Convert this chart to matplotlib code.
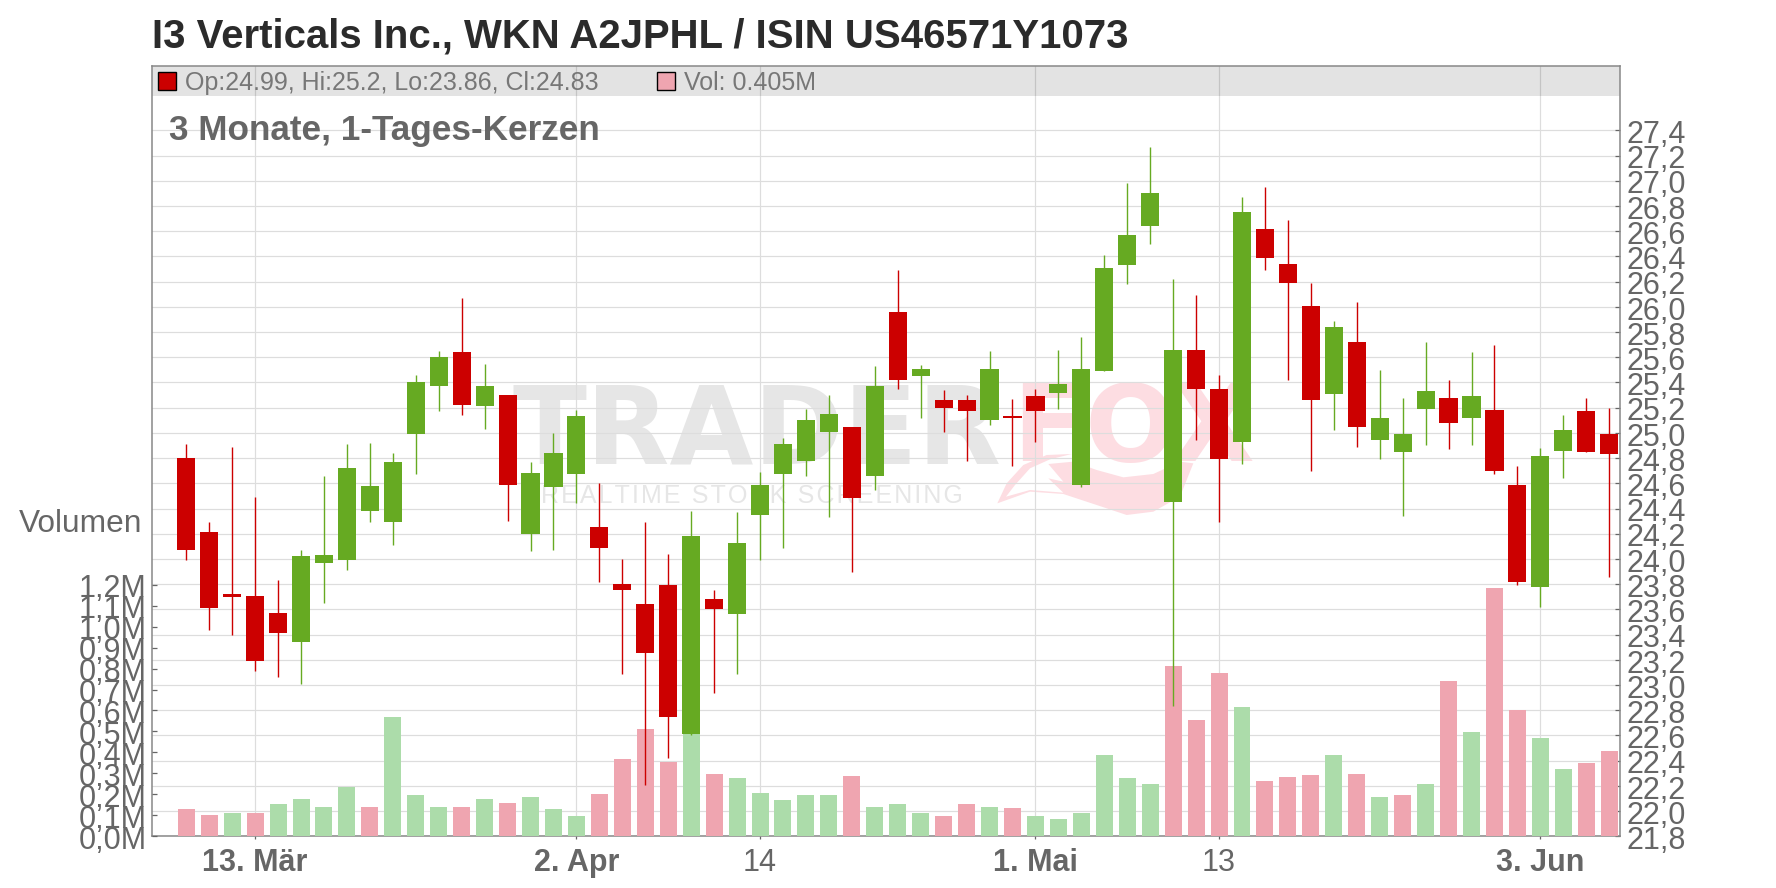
import matplotlib
matplotlib.use("Agg")
import matplotlib.pyplot as plt
from matplotlib.patches import Polygon, Rectangle
from matplotlib.transforms import ScaledTranslation

plt.rcParams["font.family"] = ["Liberation Sans", "DejaVu Sans"]

# daily candles
opens = [24.80, 24.21, 23.725, 23.71, 23.57, 23.34, 23.97, 23.99, 24.38, 24.29,
         24.99, 25.37, 25.64, 25.21, 25.30, 24.20, 24.57, 24.67, 24.25, 23.80,
         23.64, 23.79, 22.61, 23.68, 23.56, 24.35, 24.67, 24.78, 25.01, 25.05,
         24.66, 25.96, 25.45, 25.26, 25.26, 25.10, 25.13, 25.29, 25.32, 24.59,
         25.49, 26.33, 26.64, 24.45, 25.66, 25.35, 24.93, 26.62, 26.34, 26.01,
         25.31, 25.72, 24.94, 24.85, 25.19, 25.28, 25.12, 25.18, 24.59, 23.78,
         24.86, 25.17, 24.99]
highs = [24.91, 24.29, 24.89, 24.49, 23.83, 24.07, 24.66, 24.91, 24.92, 24.84,
         25.46, 25.65, 26.07, 25.55, 25.30, 24.77, 25.00, 25.18, 24.60, 24.00,
         24.29, 24.04, 24.38, 23.75, 24.37, 24.69, 24.96, 25.19, 25.30, 25.05,
         25.53, 26.29, 25.54, 25.34, 25.30, 25.65, 25.27, 25.35, 25.66, 25.76,
         26.41, 26.98, 27.27, 26.22, 26.09, 25.46, 26.87, 26.95, 26.69, 26.19,
         25.89, 26.04, 25.50, 25.28, 25.72, 25.42, 25.64, 25.70, 24.74, 24.88,
         25.14, 25.28, 25.20]
lows = [23.99, 23.44, 23.40, 23.11, 23.06, 23.01, 23.65, 23.91, 24.29, 24.11,
        24.67, 25.17, 25.14, 25.03, 24.30, 24.06, 24.07, 24.44, 23.82, 23.09,
        22.21, 22.42, 22.60, 22.94, 23.09, 23.99, 24.09, 24.66, 24.33, 23.90,
        24.55, 25.35, 25.12, 25.01, 24.78, 25.06, 24.74, 24.93, 25.19, 24.57,
        25.49, 26.18, 26.50, 22.83, 24.94, 24.29, 24.75, 26.29, 25.42, 24.70,
        25.02, 24.89, 24.79, 24.34, 24.90, 24.87, 24.90, 24.67, 23.79, 23.62,
        24.64, 24.85, 23.86]
closes = [24.07, 23.61, 23.70, 23.19, 23.41, 24.02, 24.03, 24.72, 24.58, 24.77,
          25.40, 25.60, 25.22, 25.37, 24.59, 24.68, 24.84, 25.13, 24.09, 23.75,
          23.25, 22.75, 24.18, 23.60, 24.13, 24.59, 24.91, 25.10, 25.15, 24.48,
          25.37, 25.42, 25.51, 25.20, 25.17, 25.51, 25.12, 25.17, 25.39, 25.51,
          26.31, 26.57, 26.90, 25.66, 25.35, 24.79, 26.75, 26.39, 26.19, 25.26,
          25.84, 25.05, 25.12, 24.99, 25.33, 25.08, 25.29, 24.70, 23.82, 24.82,
          25.02, 24.85, 24.83]
volumes = [0.130, 0.100, 0.110, 0.110, 0.154, 0.178, 0.140, 0.235, 0.140, 0.569,
           0.197, 0.140, 0.140, 0.178, 0.159, 0.188, 0.130, 0.097, 0.202, 0.369,
           0.512, 0.355, 0.488, 0.297, 0.278, 0.207, 0.173, 0.197, 0.197, 0.288,
           0.140, 0.154, 0.111, 0.097, 0.154, 0.140, 0.135, 0.097, 0.083, 0.111,
           0.388, 0.278, 0.250, 0.812, 0.555, 0.779, 0.617, 0.264, 0.283, 0.293,
           0.388, 0.297, 0.188, 0.197, 0.250, 0.741, 0.498, 1.184, 0.603, 0.469,
           0.321, 0.350, 0.405]

price_ticks = [21.8, 22.0, 22.2, 22.4, 22.6, 22.8, 23.0, 23.2, 23.4, 23.6, 23.8, 24.0,
               24.2, 24.4, 24.6, 24.8, 25.0, 25.2, 25.4, 25.6, 25.8, 26.0, 26.2, 26.4,
               26.6, 26.8, 27.0, 27.2, 27.4]
volume_ticks = [0.0, 0.1, 0.2, 0.3, 0.4, 0.5, 0.6, 0.7, 0.8, 0.9, 1.0, 1.1, 1.2]
date_ticks = [3, 17, 25, 37, 45, 59]
date_labels = ["13. Mär", "2. Apr", "14", "1. Mai", "13", "3. Jun"]
date_bold = [True, True, False, True, False, True]

RED = "#cc0000"
GREEN = "#66aa22"
VOL_RED = "#efa5b0"
VOL_GREEN = "#acdcaa"
GREY = "#666666"

W, H = 1776, 888
left, right, top, bottom = 152.3, 1620.0, 65.7, 836.3
rect = [left / W, 1 - bottom / H, (right - left) / W, (bottom - top) / H]


def px(x, y):
    # figure pixels, measured from the top left
    return x / W, 1 - y / H


fig = plt.figure(figsize=(W / 100, H / 100), dpi=100)
down_1px = ScaledTranslation(0, -1.2 / 100, fig.dpi_scale_trans)

# base axes: price grid, right hand ticks, date ticks
ax = fig.add_axes(rect)
xlim = (-1.48, 62.47)
ylim = (21.8, 21.8 + (bottom - top) / 126.07)
ax.set_xlim(xlim)
ax.set_ylim(ylim)
ax.set_axisbelow(True)
ax.yaxis.tick_right()
ax.set_yticks(price_ticks)
ax.set_yticklabels([f"{p:.1f}".replace(".", ",") for p in price_ticks])
ax.tick_params(axis="y", direction="in", length=3.6, width=0.9, color=GREY,
               labelsize=22, labelcolor=GREY, pad=5)
for lab in ax.get_yticklabels():
    lab.set_transform(lab.get_transform() + down_1px)
ax.set_xticks(date_ticks)
ax.set_xticklabels(date_labels)
ax.tick_params(axis="x", direction="out", length=2.2, width=0.9, color=GREY,
               labelsize=22, labelcolor=GREY, pad=6)
for lab, bold in zip(ax.get_xticklabels(), date_bold):
    if bold:
        lab.set_fontweight("bold")
ax.grid(True, color="#dddddd", linewidth=0.85)
for s in ax.spines.values():
    s.set_color("#888888")
    s.set_linewidth(1.1)

# header band
ax.add_patch(Rectangle((0, 1 - 30.3 / (bottom - top)), 1, 30.3 / (bottom - top),
                       transform=ax.transAxes, facecolor="black", alpha=0.11,
                       edgecolor="none", zorder=0.6))

# watermark
wm = fig.transFigure
ax.text(*px(512, 463), "TRADER", transform=wm, fontsize=78, family="DejaVu Sans",
        fontweight="bold", color="#e6e6e6", va="baseline", ha="left", zorder=0.1)
ax.text(*px(1012, 461), "FOX", transform=wm, fontsize=77, family="DejaVu Sans",
        fontweight="bold", color="#fddde2", va="baseline", ha="left", zorder=0.1)
ax.text(*px(541, 503), "\u200a".join("REALTIME STOCK SCREENING"), transform=wm,
        fontsize=18, color="#e6e6e6", va="baseline", ha="left", zorder=0.1)
tail = [(52, 400), (80, 340), (130, 285), (200, 255), (275, 252), (210, 268), (150, 295),
        (105, 345), (78, 380), (150, 360), (250, 368), (205, 325), (250, 335), (205, 282),
        (280, 275), (350, 300), (430, 322), (520, 312), (600, 275), (640, 280), (600, 380),
        (520, 425), (440, 435), (350, 405), (250, 372), (150, 365)]
tail_fig = [px(980 + a / 3, 370 + b / 3) for a, b in tail]
ax.add_patch(Polygon(tail_fig, closed=True, transform=wm, facecolor="#fddde2",
                     edgecolor="none", zorder=0.1))

# volume axes, colour follows the change against the previous close
ax_vol = fig.add_axes(rect, sharex=ax)
ax_vol.patch.set_visible(False)
ax_vol.set_ylim(0, (bottom - top) / 209.7)
x = list(range(len(opens)))
vol_colors = [VOL_RED] + [VOL_GREEN if c > p else VOL_RED for p, c in zip(closes, closes[1:])]
ax_vol.bar(x, volumes, width=0.74, color=vol_colors, linewidth=0)
ax_vol.set_yticks(volume_ticks)
ax_vol.set_yticklabels([f"{v:.1f}M".replace(".", ",") for v in volume_ticks])
ax_vol.tick_params(axis="y", direction="in", length=3.6, width=0.9, color=GREY,
                   labelsize=22, labelcolor=GREY, pad=4)
for lab in ax_vol.get_yticklabels():
    lab.set_transform(lab.get_transform() + down_1px)
ax_vol.tick_params(axis="x", bottom=False, labelbottom=False)
for s in ax_vol.spines.values():
    s.set_visible(False)

# candles
ax_c = fig.add_axes(rect, sharex=ax)
ax_c.patch.set_visible(False)
ax_c.set_ylim(ylim)
ax_c.axis("off")
colors = [GREEN if c > o else RED for o, c in zip(opens, closes)]
ax_c.vlines(x, lows, highs, colors=colors, linewidth=1.0)
ax_c.bar(x, [abs(c - o) for o, c in zip(opens, closes)], bottom=[min(o, c) for o, c in zip(opens, closes)],
         width=0.79, color=colors, linewidth=0)
ax.set_xlim(xlim)

# texts outside the axes
fig.text(*px(152, 47), "I3 Verticals Inc., WKN A2JPHL / ISIN US46571Y1073", fontsize=28.9,
         fontweight="bold", color="#2b2b2b", va="baseline")
fig.text(*px(169, 140), "3 Monate, 1-Tages-Kerzen", fontsize=25.3, fontweight="bold",
         color=GREY, va="baseline")
fig.text(*px(18.5, 532), "Volumen", fontsize=22.8, color=GREY, va="baseline")
fig.text(*px(185, 90), "Op:24.99, Hi:25.2, Lo:23.86, Cl:24.83", fontsize=18, color="#777777", va="baseline")
fig.text(*px(684, 90), "Vol: 0.405M", fontsize=18, color="#777777", va="baseline")
for x0, col in [(157.8, RED), (656.5, VOL_RED)]:
    fig.add_artist(Rectangle(px(x0, 90.5), 18 / W, 18 / H, transform=fig.transFigure,
                             facecolor=col, edgecolor="black", linewidth=1.0))

fig.savefig("out.png", dpi=100)
